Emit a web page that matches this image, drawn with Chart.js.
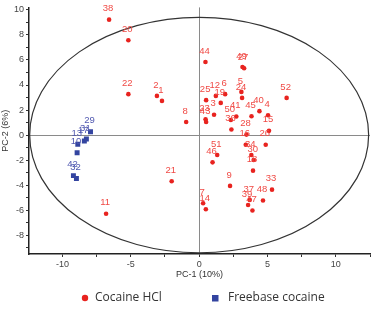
<!DOCTYPE html>
<html><head><meta charset="utf-8">
<script src="https://cdn.jsdelivr.net/npm/chart.js@4"></script>
<style>html,body{margin:0;padding:0;background:#fff}</style>
</head><body>
<canvas id="c" width="380" height="310" style="width:380px;height:310px;display:block"></canvas>
<script>
// ---- data ----
const hclLabels = ['38','20','22','2','1','8','11','21','44','49','27','5','24','52','25','12','6','19','3','23','43','50','41','36','45','40','4','15','28','16','26','34','30','18','51','46','9','7','14','33','48','37','39','47'];
const hclX = [-6.59,-5.18,-5.18,-3.09,-2.72,-0.95,-6.81,-2.01,0.46,3.17,3.29,3.09,3.14,6.40,0.51,1.22,1.90,1.58,1.09,0.47,0.51,2.32,2.72,2.36,3.83,4.41,5.04,5.11,3.46,3.41,4.87,3.82,3.99,3.94,1.32,0.98,2.26,0.29,0.49,5.33,4.67,3.70,3.58,3.90];
const hclY = [9.22,7.57,3.27,3.13,2.73,1.04,-6.29,-3.69,5.84,5.44,5.34,3.45,2.97,2.97,2.79,3.13,3.27,2.57,1.62,1.27,1.04,1.20,1.49,0.45,1.51,1.91,1.59,0.34,0.04,-0.77,-0.77,-1.59,-1.99,-2.84,-1.59,-2.18,-4.06,-5.45,-5.92,-4.36,-5.23,-5.18,-5.58,-6.03];
const fbLabels = ['29','31','17','13','10','42','32'];
const fbX = [-7.95,-8.25,-8.40,-8.88,-8.93,-9.20,-8.98];
const fbY = [0.26,-0.32,-0.48,-0.74,-1.41,-3.24,-3.47];
const seriesNames = ['Cocaine HCl','Freebase cocaine'];
const ellipseRx = 12.4, ellipseRy = 9.4;
const xLabelStep = 5, yLabelStep = 2;

const RED = '#e8231f', RED_TXT = '#f04a45', BLUE = '#3344a0', BLUE_TXT = '#5058b0';

function pts(xs, ys){ return xs.map((x,i)=>({x:x, y:ys[i]})); }

const ellipsePlugin = {
  id:'ellipse',
  beforeDatasetsDraw(chart){
    const xs = chart.scales.x, ys = chart.scales.y, ctx = chart.ctx;
    const cx = xs.getPixelForValue(0), cy = ys.getPixelForValue(0);
    const rx = Math.abs(xs.getPixelForValue(ellipseRx) - cx);
    const ry = Math.abs(ys.getPixelForValue(ellipseRy) - cy);
    ctx.save();
    ctx.beginPath();
    ctx.ellipse(cx, cy, rx, ry, 0, 0, Math.PI*2);
    ctx.strokeStyle = '#333'; ctx.lineWidth = 1.2;
    ctx.stroke();
    ctx.restore();
  }
};

const labelPlugin = {
  id:'ptlabels',
  afterDatasetsDraw(chart){
    const ctx = chart.ctx;
    ctx.save();
    ctx.font = '9.5px "Liberation Sans", Arial, sans-serif';
    ctx.textAlign = 'center'; ctx.textBaseline = 'middle';
    chart.data.datasets.forEach((ds, di) => {
      const meta = chart.getDatasetMeta(di);
      ctx.fillStyle = ds.labelColor;
      meta.data.forEach((el, i) => {
        ctx.fillText(ds.pointLabels[i], el.x - 1, el.y - 11);
      });
    });
    ctx.restore();
  }
};

const legendPlugin = {
  id:'customLegend',
  afterDraw(chart){
    const ctx = chart.ctx;
    const y = 298;
    ctx.save();
    ctx.font = '12px "Open Sans", sans-serif';
    ctx.textBaseline = 'middle'; ctx.textAlign = 'left';
    ctx.fillStyle = RED;
    ctx.beginPath(); ctx.arc(85, y, 3.2, 0, Math.PI*2); ctx.fill();
    ctx.fillStyle = '#333';
    ctx.fillText(seriesNames[0], 95, y);
    ctx.fillStyle = BLUE;
    ctx.fillRect(212, y-3, 6.5, 6.5);
    ctx.fillStyle = '#333';
    ctx.fillText(seriesNames[1], 228, y);
    ctx.restore();
  }
};

new Chart(document.getElementById('c'), {
  type:'scatter',
  data:{ datasets:[
    { label:seriesNames[1], data:pts(fbX, fbY), pointLabels:fbLabels, labelColor:BLUE_TXT,
      pointStyle:'rect', pointRadius:3.5, backgroundColor:BLUE, borderWidth:0 },
    { label:seriesNames[0], data:pts(hclX, hclY), pointLabels:hclLabels, labelColor:RED_TXT,
      pointStyle:'circle', pointRadius:2.3, backgroundColor:RED, borderWidth:0 }
  ]},
  options:{
    responsive:false, animation:false, devicePixelRatio:1,
    layout:{ padding:{ top:7, right:10, bottom:30, left:0 } },
    plugins:{ legend:{display:false}, tooltip:{enabled:false} },
    scales:{
      x:{ type:'linear', min:-12.45, max:12.5,
        ticks:{ stepSize:2.5, includeBounds:false, autoSkip:false, maxRotation:0,
          callback:v => (Math.abs(v % xLabelStep) < 1e-9 ? v : ''),
          font:{size:9, family:'"Liberation Sans", Arial'}, color:'#444', padding:2 },
        grid:{ color:c => (c.tick && c.tick.value === 0 ? '#8a8a8a' : 'rgba(0,0,0,0)'),
          tickColor:'#333', tickLength:3, lineWidth:1 },
        border:{ color:'#222', width:1.5 },
        title:{ display:true, text:'PC-1 (10%)', font:{size:9, family:'"Liberation Sans", Arial'}, color:'#333', padding:{top:1,bottom:0} },
        afterFit(s){ s.height = 26; }
      },
      y:{ type:'linear', min:-9.5, max:10.2,
        ticks:{ stepSize:1, includeBounds:false, autoSkip:false,
          callback:v => (Math.abs(v % yLabelStep) < 1e-9 ? v : ''),
          font:{size:9, family:'"Liberation Sans", Arial'}, color:'#444', padding:2 },
        grid:{ color:c => (c.tick && c.tick.value === 0 ? '#8a8a8a' : 'rgba(0,0,0,0)'),
          tickColor:'#333', tickLength:3, lineWidth:1 },
        border:{ color:'#222', width:1.5 },
        title:{ display:true, text:'PC-2 (6%)', font:{size:9, family:'"Liberation Sans", Arial'}, color:'#333', padding:{top:0,bottom:1} },
        afterFit(s){ s.width = 29; }
      }
    }
  },
  plugins:[ellipsePlugin, labelPlugin, legendPlugin]
});
</script>
</body></html>
